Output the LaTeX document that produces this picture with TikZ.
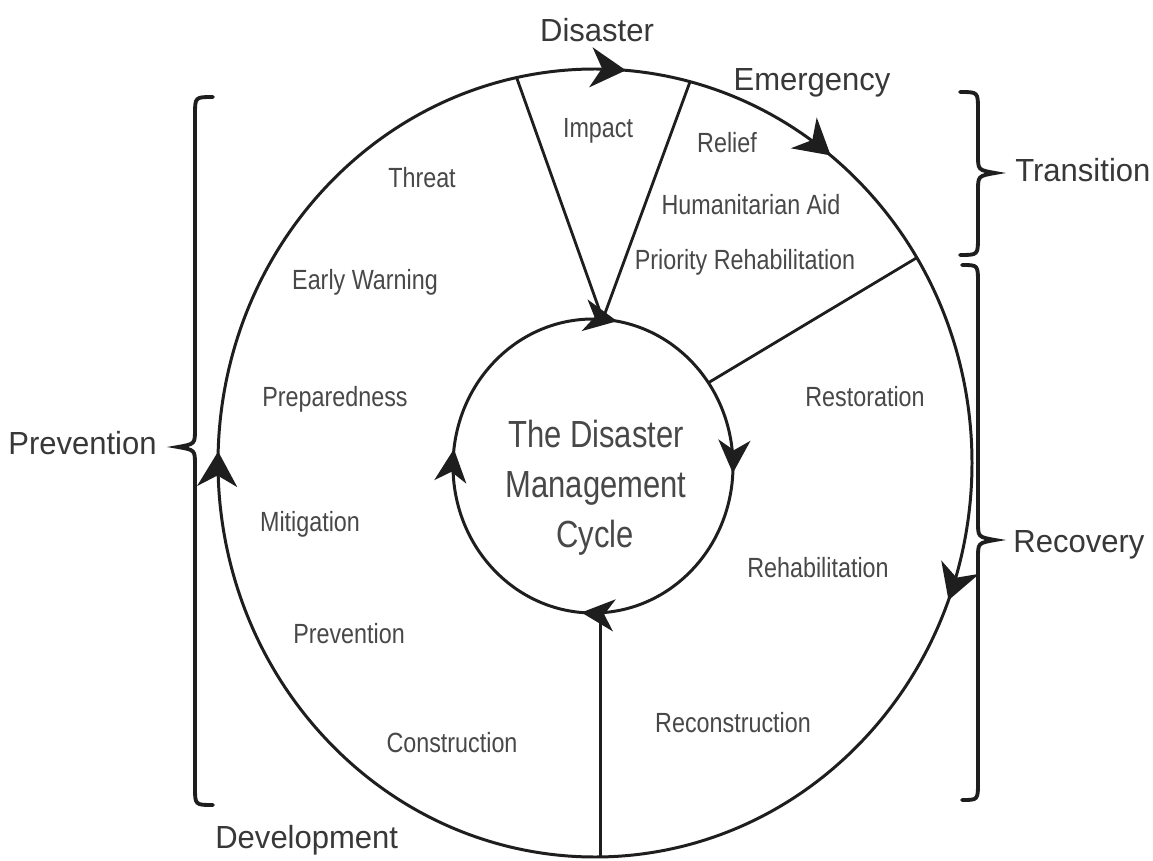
\documentclass[tikz,border=0pt]{standalone}
\usepackage{fontspec}
\setmainfont{Liberation Sans}
\newfontfamily\phasefont[FakeStretch=0.97]{Liberation Sans}
\newfontfamily\stagefont[FakeStretch=0.84]{Liberation Sans}
\newfontfamily\titlefont[FakeStretch=0.82]{Liberation Sans}
\usetikzlibrary{arrows.meta,decorations.markings,calc}

\definecolor{ink}{HTML}{1E1E1E}
\definecolor{phasetext}{HTML}{383838}
\definecolor{stagetext}{HTML}{484848}

% typographic curly brace: #1 end x, #2 spine x, #3 tip x, #4 top y, #5 tip y, #6 bottom y
\newcommand\curlybrace[6]{%
  \draw[bracestyle] (#1,#4) .. controls ({#2},#4) .. ({#2},{#4-18})
    -- ({#2},{#5+18}) .. controls ({#2},{#5+3}) .. (#3,#5)
    .. controls ({#2},{#5-3}) .. ({#2},{#5-18})
    -- ({#2},{#6+18}) .. controls ({#2},#6) .. (#1,#6);}

\tikzset{
  bighead/.tip={Stealth[length=0.7cm,width=0.8cm,inset=0.22cm]},
  smallhead/.tip={Stealth[length=0.66cm,width=0.64cm,inset=0.2cm]},
}

\begin{document}
\begin{tikzpicture}[x=0.02cm,y=0.02cm,
  ring/.style={draw=ink, line width=1.7pt},
  spoke/.style={draw=ink, line width=1.6pt},
  bracestyle/.style={draw=ink, line width=2.2pt, line cap=round},
  phase/.style={font=\phasefont\fontsize{18.2}{20}\selectfont, text=phasetext, anchor=base, inner sep=0pt},
  stage/.style={font=\stagefont\fontsize{15.8}{18}\selectfont, text=stagetext, anchor=base, inner sep=0pt},
  cycletitle/.style={font=\titlefont\fontsize{21.5}{24}\selectfont, text=stagetext, anchor=base, inner sep=0pt},
  outerarrows/.style={postaction={decorate, decoration={markings,
    mark=at position 0.136 with {\arrow{bighead}},
    mark=at position 0.229 with {\arrow{bighead}},
    mark=at position 0.431 with {\arrow{bighead}},
    mark=at position 0.878 with {\arrow{bighead}}}}},
  innerarrows/.style={postaction={decorate, decoration={markings,
    mark=at position 0.150 with {\arrow{smallhead}},
    mark=at position 0.381 with {\arrow{smallhead}},
    mark=at position 0.636 with {\arrow{smallhead}},
    mark=at position 0.892 with {\arrow{smallhead}}}}},
]
\fill[white] (0,0) rectangle (1153,860);
\useasboundingbox (0,0) rectangle (1153,860);

% centres of the two rings
\coordinate (oc) at (595,397);
\coordinate (ic) at (593,394);

% outer ring, drawn clockwise
\draw[ring, outerarrows] ($(oc)+(135:377 and 394)$)
  arc[start angle=135, end angle=-225, x radius=377, y radius=394];
% inner ring, drawn clockwise
\draw[ring, innerarrows] ($(ic)+(135:140 and 147)$)
  arc[start angle=135, end angle=-225, x radius=140, y radius=147];

% points where the dividing lines meet the rings
\coordinate (oImpactL) at ($(oc)+(102:377 and 394)$);
\coordinate (oImpactR) at ($(oc)+(75.4:377 and 394)$);
\coordinate (oRecovery) at ($(oc)+(31.4:377 and 394)$);
\coordinate (oBottom) at ($(oc)+(-90:377 and 394)$);
\coordinate (iTop) at ($(ic)+(86:140 and 147)$);
\coordinate (iRecovery) at ($(ic)+(34.5:140 and 147)$);
\coordinate (iBottom) at ($(ic)+(-87:140 and 147)$);

\draw[spoke] (oImpactL) -- (iTop);
\draw[spoke] (oImpactR) -- (iTop);
\draw[spoke] (oRecovery) -- (iRecovery);
\draw[spoke] (iBottom) -- (iBottom |- oBottom);

% braces
\curlybrace{213}{195}{178}{763}{413}{55}
\curlybrace{960}{978}{995}{768}{687}{605}
\curlybrace{962}{978}{995}{595}{320}{60}

% phase labels
\node[phase] (lDisaster) at (597,818) {Disaster};
\node[phase] (lEmergency) at (812,769) {Emergency};
\node[phase, anchor=base west] (lTransition) at (1015,678) {Transition};
\node[phase, anchor=base west] (lRecovery) at (1013,308) {Recovery};
\node[phase, anchor=base west] (lPrevention) at (8,406) {Prevention};
\node[phase, anchor=base west] (lDevelopment) at (215,12) {Development};

% stage labels
\node[stage] (sImpact) at (598,722) {Impact};
\node[stage] (sRelief) at (727,707) {Relief};
\node[stage] (sAid) at (751,645) {Humanitarian Aid};
\node[stage] (sPriority) at (745,590) {Priority Rehabilitation};
\node[stage] (sThreat) at (422,672) {Threat};
\node[stage] (sWarning) at (365,570) {Early Warning};
\node[stage] (sPreparedness) at (335,454) {Preparedness};
\node[stage] (sMitigation) at (310,329) {Mitigation};
\node[stage] (sPrevention) at (349,217) {Prevention};
\node[stage] (sConstruction) at (452,108) {Construction};
\node[stage] (sReconstruction) at (733,128) {Reconstruction};
\node[stage] (sRehabilitation) at (818,283) {Rehabilitation};
\node[stage] (sRestoration) at (865,454) {Restoration};

% title in the middle
\node[cycletitle] (title1) at (596,413) {The Disaster};
\node[cycletitle] (title2) at (596,363) {Management};
\node[cycletitle] (title3) at (595,313) {Cycle};
\end{tikzpicture}
\end{document}
